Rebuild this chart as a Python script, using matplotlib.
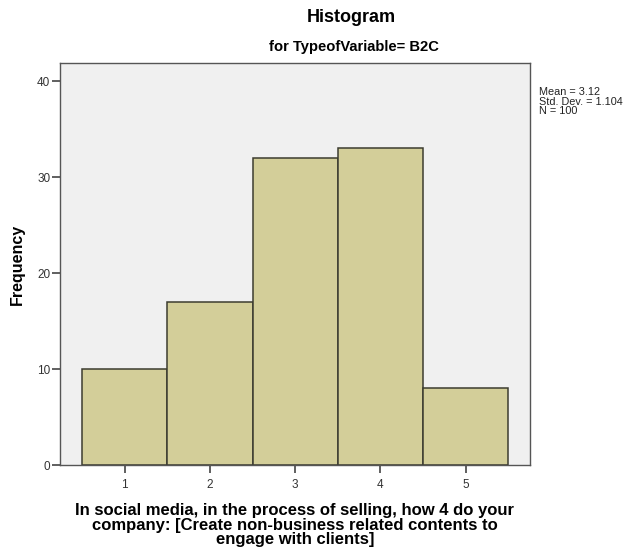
import matplotlib
matplotlib.use("Agg")
import matplotlib.pyplot as plt
import numpy as np

# Response categories and their counts
categories = [1, 2, 3, 4, 5]
counts = [10, 17, 32, 33, 8]
y_ticks = [0, 10, 20, 30, 40]

n = sum(counts)
mean = sum(c * k for c, k in zip(categories, counts)) / n
std = np.sqrt(sum(k * (c - mean) ** 2 for c, k in zip(categories, counts)) / (n - 1))

plt.rcParams['font.family'] = ['Liberation Sans', 'DejaVu Sans']

fig = plt.figure(figsize=(6.37, 5.56), dpi=100)
ax = fig.add_axes([60 / 637, 91 / 556, 470 / 637, 402 / 556])
ax.set_facecolor('#F0F0F0')

ax.bar(categories, counts, width=1.0, color='#D3CE99', edgecolor='#3C3C30',
       linewidth=1.1, zorder=2)

ax.set_xlim(0.24, 5.755)
ax.set_ylim(0, 41.9)
ax.set_xticks(categories)
ax.set_yticks(y_ticks)
ax.tick_params(axis='both', direction='out', length=6, width=1.2,
               color='#444444', labelsize=8.5, labelcolor='#333333')
ax.tick_params(axis='x', pad=4)
ax.tick_params(axis='y', pad=1)
for s in ax.spines.values():
    s.set_color('#555555')
    s.set_linewidth(1.0)

ax.set_ylabel('Frequency', fontsize=11.5, fontweight='bold', labelpad=9)
ax.set_xlabel('In social media, in the process of selling, how 4 do your\n'
              'company: [Create non-business related contents to\n'
              'engage with clients]',
              fontsize=12, fontweight='bold', linespacing=0.95, labelpad=9)

fig.text(0.552, 1 - 17 / 556, 'Histogram', ha='center', va='center',
         fontsize=13, fontweight='bold')
fig.text(0.555, 1 - 47 / 556, 'for TypeofVariable= B2C', ha='center', va='center',
         fontsize=10.6, fontweight='bold')

fig.text(539 / 637, 1 - 87 / 556,
         f'Mean = {mean:.2f}\nStd. Dev. = {std:.3f}\nN = {n}',
         ha='left', va='top', fontsize=7.8, linespacing=0.95, color='#222222')

fig.savefig('out.png', dpi=100, facecolor='white')
